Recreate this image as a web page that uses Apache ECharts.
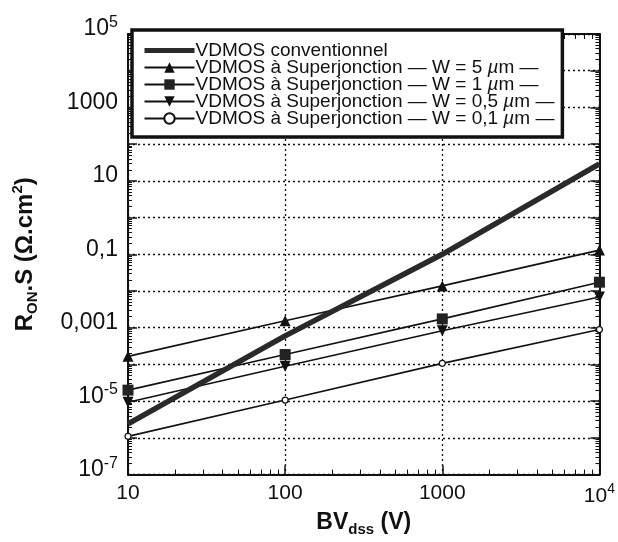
<!DOCTYPE html>
<html><head><meta charset="utf-8">
<script src="https://cdn.jsdelivr.net/npm/echarts@6/dist/echarts.min.js"></script>
<style>html,body{margin:0;padding:0;background:#fff}#c{width:618px;height:542px}</style>
</head><body><div id="c"></div>
<script>
const bvValues = [10, 100, 1000, 10000];
const seriesNames = [
  'VDMOS conventionnel',
  'VDMOS à Superjonction — W = 5 µm —',
  'VDMOS à Superjonction — W = 1 µm —',
  'VDMOS à Superjonction — W = 0,5 µm —',
  'VDMOS à Superjonction — W = 0,1 µm —'
];
const conventionnel = [2.4e-6, 6e-4, 0.1, 29];
const sj5um = [1.66e-4, 1.55e-3, 0.0138, 0.13];
const sj1um = [2.0e-5, 1.86e-4, 1.74e-3, 0.0174];
const sj05um = [9.3e-6, 8.9e-5, 8.3e-4, 6.9e-3];
const sj01um = [1.1e-6, 1.07e-5, 1.07e-4, 8.9e-4];
const yTickLabels = {'5':'{b|10}{s|5}','3':'1000','1':'10','-1':'0,1','-3':'0,001','-5':'{b|10}{s|-5}','-7':'{b|10}{s|-7}'};
const xTickLabels = {'1':'10','2':'100','3':'1000','4':'{b|10}{s|4}'};

const FONT = 'Liberation Sans, Arial, sans-serif';
const INK = '#111';
function richNum(fs){ return {
  b: {fontSize: fs, fontFamily: FONT, color: INK, lineHeight: fs+6},
  s: {fontSize: Math.round(fs*0.68), fontFamily: FONT, color: INK, verticalAlign: 'top', lineHeight: 14}
};}
function pair(xs, ys){ return xs.map((x,i)=>[x, ys[i]]); }
function expOf(v){ return Math.round(Math.log10(v)); }

const chart = echarts.init(document.getElementById('c'), null, {renderer:'canvas'});
const thin = {color:INK, width:1.6};
const tickStyle = {color:INK, width:1.5};
const minorStyle = {color:INK, width:1};
chart.setOption({
  animation:false,
  backgroundColor:'#fff',
  grid:{left:128, right:13, top:34, bottom:64, show:false},
  legend:{
    orient:'vertical', left:132, top:30,
    padding:[11,8,9,10], itemGap:-2, itemWidth:50, itemHeight:13,
    backgroundColor:'#fff', borderColor:INK, borderWidth:3.5,
    textStyle:{fontFamily:FONT, fontSize:19, color:INK, lineHeight:16, padding:[0,0,0,-4],
      rich:{i:{fontStyle:'italic', fontFamily:FONT, fontSize:19, color:INK, lineHeight:16}}},
    formatter: n => n.replace('µ','{i|µ}'),
    data: [
      {name:seriesNames[0], itemStyle:{color:'rgba(0,0,0,0)', borderWidth:0}, lineStyle:{width:5, color:'#2a2a2a'}},
      {name:seriesNames[1]},
      {name:seriesNames[2]},
      {name:seriesNames[3]},
      {name:seriesNames[4]}
    ]
  },
  xAxis:[{
    type:'log', min:10, max:10000, logBase:10, interval:1,
    name:'{b|BV}{sub|dss}{b| (V)}', nameLocation:'middle', nameGap:34,
    nameTextStyle:{rich:{
      b:{fontFamily:FONT, fontSize:23, fontWeight:'bold', color:INK, lineHeight:28},
      sub:{fontFamily:FONT, fontSize:15, fontWeight:'bold', color:INK, verticalAlign:'bottom', lineHeight:12}}},
    axisLine:{show:true, onZero:false, lineStyle:{color:INK, width:2}},
    axisTick:{show:true, inside:true, length:9, lineStyle:tickStyle},
    minorTick:{show:true, splitNumber:9, length:5, lineStyle:minorStyle},
    axisLabel:{margin:8, formatter: v => xTickLabels[String(expOf(v))] || '', rich:richNum(21), fontSize:21, fontFamily:FONT, color:INK},
    splitLine:{show:true, lineStyle:{color:INK, type:[2,3], width:1.3}}
  },{
    type:'log', min:10, max:10000, position:'top', interval:1,
    axisLine:{show:true, lineStyle:{color:INK, width:2}},
    axisTick:{show:true, inside:true, length:9, lineStyle:tickStyle},
    minorTick:{show:true, splitNumber:9, length:5, lineStyle:minorStyle},
    axisLabel:{show:false}, splitLine:{show:false}
  }],
  yAxis:[{
    type:'log', min:1e-7, max:1e5, logBase:10, interval:1,
    name:'{b|R}{sub|ON}{b|.S (Ω.cm}{sup|2}{b|)}', nameLocation:'middle', nameGap:88, nameRotate:90,
    nameTextStyle:{rich:{
      b:{fontFamily:FONT, fontSize:24, fontWeight:'bold', color:INK, lineHeight:30},
      sub:{fontFamily:FONT, fontSize:15, fontWeight:'bold', color:INK, verticalAlign:'bottom', lineHeight:12},
      sup:{fontFamily:FONT, fontSize:15, fontWeight:'bold', color:INK, verticalAlign:'top', lineHeight:12}}},
    axisLine:{show:true, onZero:false, lineStyle:{color:INK, width:2}},
    axisTick:{show:true, inside:true, length:9, lineStyle:tickStyle},
    minorTick:{show:true, splitNumber:9, length:4, lineStyle:minorStyle},
    axisLabel:{margin:10, padding:[0,0,10,0], formatter: v => yTickLabels[String(expOf(v))] || '', rich:richNum(23), fontSize:23, fontFamily:FONT, color:INK},
    splitLine:{show:true, lineStyle:{color:INK, type:[2,3], width:1.3}}
  },{
    type:'log', min:1e-7, max:1e5, position:'right', interval:1,
    axisLine:{show:true, lineStyle:{color:INK, width:2}},
    axisTick:{show:true, inside:true, length:9, lineStyle:tickStyle},
    minorTick:{show:true, splitNumber:9, length:4, lineStyle:minorStyle},
    axisLabel:{show:false}, splitLine:{show:false}
  }],
  series:[
    {name:seriesNames[0], type:'line', data:pair(bvValues, conventionnel), showSymbol:false, symbol:'none', clip:false, z:5,
     lineStyle:{color:'#2a2a2a', width:5.5}, itemStyle:{color:'#2a2a2a'}},
    {name:seriesNames[1], type:'line', data:pair(bvValues, sj5um), symbol:'triangle', symbolSize:11, clip:false,
     lineStyle:thin, itemStyle:{color:INK}},
    {name:seriesNames[2], type:'line', data:pair(bvValues, sj1um), symbol:'rect', symbolSize:11, clip:false,
     lineStyle:thin, itemStyle:{color:'#222'}},
    {name:seriesNames[3], type:'line', data:pair(bvValues, sj05um), symbol:'triangle', symbolRotate:180, symbolSize:11, clip:false,
     lineStyle:thin, itemStyle:{color:INK}},
    {name:seriesNames[4], type:'line', data:pair(bvValues, sj01um), symbol:'circle', symbolSize:6, clip:false,
     lineStyle:thin, itemStyle:{color:'#fff', borderColor:INK, borderWidth:1.2}}
  ]
});
</script></body></html>
